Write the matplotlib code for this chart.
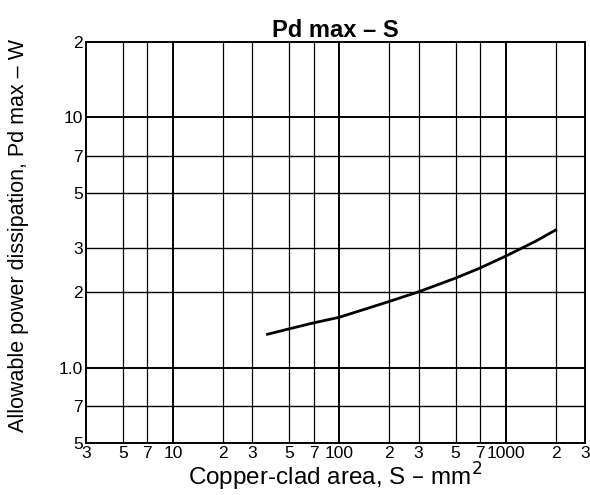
import matplotlib
matplotlib.use("Agg")
import matplotlib.pyplot as plt

# curve (S in mm^2, Pd max in W)
area = [37, 50, 70, 100, 200, 300, 500, 700, 1000, 1500, 2000]
power = [1.36, 1.43, 1.51, 1.59, 1.84, 2.01, 2.28, 2.50, 2.79, 3.19, 3.55]

x_ticks = [3, 5, 7, 10, 20, 30, 50, 70, 100, 200, 300, 500, 700, 1000, 2000, 3000]
x_labels = ["3", "5", "7", "10", "2", "3", "5", "7", "100", "2", "3", "5", "7", "1000", "2", "3"]
y_ticks = [0.5, 0.7, 1.0, 2, 3, 5, 7, 10, 20]
y_labels = ["5", "7", "1.0", "2", "3", "5", "7", "10", "2"]

plt.rcParams['font.family'] = ['Liberation Sans', 'DejaVu Sans']

fig = plt.figure(figsize=(5.9, 4.95), dpi=100)
ax = fig.add_axes([0.1458, 0.105, 0.8457, 0.81])
ax.set_xscale("log")
ax.set_yscale("log")
ax.set_xlim(3, 3000)
ax.set_ylim(0.5, 20)

# grid lines, decades a little heavier
for x in x_ticks[1:-1]:
    lw = 1.4 if x in (10, 100, 1000) else 0.9
    ax.axvline(x, color="black", lw=lw, zorder=1)
for y in y_ticks[1:-1]:
    lw = 1.4 if y in (1.0, 10) else 1.0
    ax.axhline(y, color="black", lw=lw, zorder=1)

ax.plot(area, power, color="black", lw=2, zorder=3)

ax.set_xticks(x_ticks)
ax.set_xticklabels(x_labels)
ax.set_yticks(y_ticks)
ax.set_yticklabels(y_labels)
ax.minorticks_off()
ax.tick_params(length=0, labelsize=12.5, pad=2)

for s in ax.spines.values():
    s.set_linewidth(1.4)

ax.set_title("Pd max – S", fontsize=17, fontweight="bold", pad=3)
ax.set_xlabel("Copper-clad area, S – mm$^2$", fontsize=17.5, labelpad=0)
ax.set_ylabel("Allowable power dissipation, Pd max – W", fontsize=15.5)
ax.yaxis.set_label_coords(-0.115, 0.517)

fig.savefig("out.png", dpi=100)
